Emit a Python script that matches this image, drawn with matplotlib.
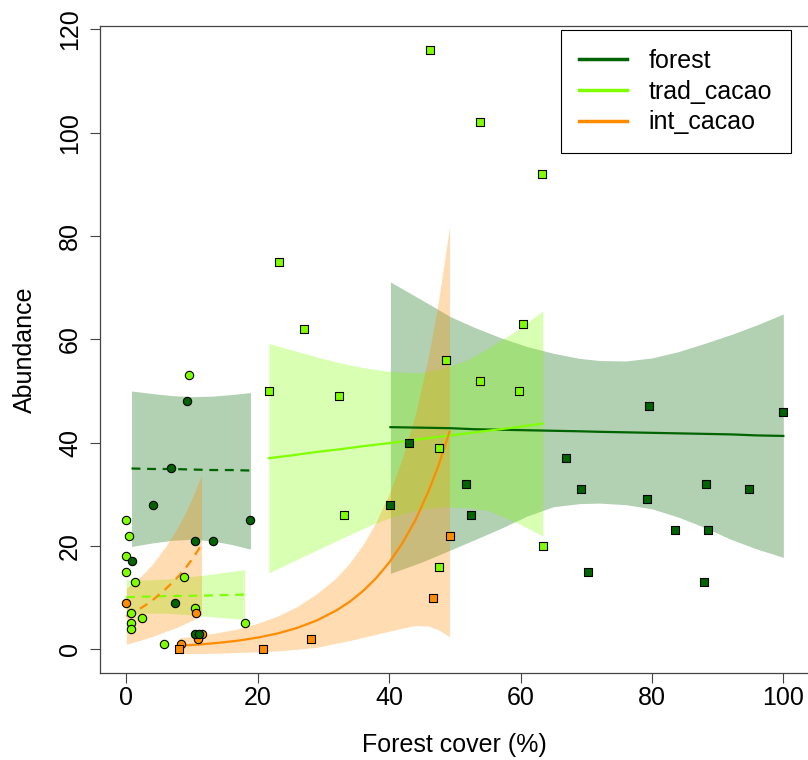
import matplotlib
matplotlib.use('Agg')
import matplotlib.pyplot as plt
from matplotlib.lines import Line2D

plt.rcParams['font.family'] = ['Liberation Sans', 'DejaVu Sans']

# ---------------- data ----------------
# circles (low forest-cover landscapes)
forest_circ_x = [9.3, 6.8, 4.0, 18.9, 10.4, 13.2, 0.8, 7.4, 10.4, 11.1]
forest_circ_y = [48, 35, 28, 25, 21, 21, 17, 9, 3, 3]
trad_circ_x = [9.6, 0.0, 0.45, 0.0, 0.0, 1.4, 8.8, 10.5, 0.75, 2.4, 0.75, 0.75, 18.0, 5.8]
trad_circ_y = [53, 25, 22, 18, 15, 13, 14, 8, 7, 6, 5, 4, 5, 1]
int_circ_x = [0.0, 10.6, 11.45, 10.9, 8.4]
int_circ_y = [9, 7, 3, 2, 1]

# squares (higher forest-cover landscapes)
forest_sq_x = [79.5, 100.0, 67.0, 69.2, 88.2, 94.8, 79.3, 83.5, 88.6, 70.2, 87.9, 43.0, 51.7, 40.2, 52.5]
forest_sq_y = [47, 46, 37, 31, 32, 31, 29, 23, 23, 15, 13, 40, 32, 28, 26]
trad_sq_x = [23.3, 27.1, 21.7, 32.3, 48.6, 53.8, 59.7, 60.4, 47.6, 33.1, 63.4, 47.6, 46.2, 53.8, 63.2]
trad_sq_y = [75, 62, 50, 49, 56, 52, 50, 63, 39, 26, 20, 16, 116, 102, 92]
int_sq_x = [8.0, 20.8, 28.1, 46.7, 49.2]
int_sq_y = [0, 0, 2, 10, 22]

# fitted curves and confidence bands
fc_fit_x = [0.8, 4, 7, 10, 13, 16, 18.9]
fc_fit = [35.0, 34.9, 34.9, 34.8, 34.7, 34.7, 34.6]
fc_lo = [19.9, 20.6, 21.1, 21.3, 21.0, 20.3, 19.4]
fc_hi = [50.0, 49.5, 49.1, 48.9, 49.0, 49.3, 49.7]

tc_fit_x = [0, 3, 6, 9, 12, 15, 18]
tc_fit = [10.1, 10.2, 10.3, 10.35, 10.4, 10.5, 10.6]
tc_lo = [6.7, 7.0, 7.0, 6.75, 6.4, 6.1, 5.8]
tc_hi = [13.5, 13.4, 13.6, 13.95, 14.4, 14.9, 15.4]

ic_fit_x = [0, 1, 2, 3, 4, 5, 6, 7, 8, 9, 10, 11.45]
ic_fit = [6.4, 7.1, 7.8, 8.6, 9.5, 10.6, 11.7, 12.9, 14.2, 15.7, 17.4, 20.2]
ic_lo = [1.0, 1.35, 1.7, 2.1, 2.5, 3.0, 3.5, 3.9, 4.4, 5.0, 5.6, 6.7]
ic_hi = [11.8, 12.8, 13.9, 15.1, 16.5, 18.2, 19.9, 21.9, 24.0, 26.4, 29.2, 33.7]

fs_fit_x = [40.2, 45, 49.3, 53, 57, 61, 65, 69, 72, 76, 80, 84, 88, 92, 96, 100]
fs_fit = [43.0, 42.9, 42.8, 42.6, 42.5, 42.4, 42.3, 42.2, 42.1, 42.0, 41.9, 41.8, 41.7, 41.6, 41.4, 41.3]
fs_lo = [14.7, 16.9, 19.2, 21.2, 23.4, 25.8, 27.6, 28.2, 28.3, 28.0, 27.2, 25.6, 23.6, 21.3, 19.4, 17.8]
fs_hi = [71.1, 67.6, 64.4, 62.3, 60.3, 58.6, 57.3, 56.3, 55.9, 55.8, 56.4, 57.6, 59.2, 60.9, 62.8, 64.9]

ts_fit_x = [21.7, 25, 29, 33, 36.6, 40, 44.3, 48, 51.9, 55, 59.5, 63.4]
ts_fit = [37.0, 37.5, 38.2, 38.8, 39.4, 39.9, 40.6, 41.2, 41.8, 42.3, 43.0, 43.7]
ts_lo = [14.8, 16.8, 19.2, 21.6, 23.7, 25.4, 27.0, 27.6, 27.4, 26.9, 24.5, 21.9]
ts_hi = [59.2, 58.0, 56.6, 55.3, 54.4, 53.8, 53.5, 54.3, 56.0, 58.2, 61.8, 65.5]

is_fit_x = [8.0, 11, 14, 17, 20, 23, 26, 29, 32, 34, 36, 38, 40, 42, 44, 46, 47.5, 49.2]
is_fit = [0.7, 0.92, 1.25, 1.68, 2.27, 3.06, 4.14, 5.59, 7.54, 9.21, 11.25, 13.74, 16.78, 20.5,
          25.0, 30.6, 35.5, 42.1]
is_lo = [-0.8, -0.8, -0.75, -0.6, -0.5, -0.3, 0.0, 0.4, 1.2, 1.7, 2.3, 2.9, 3.5, 4.1, 4.6, 4.5,
         3.8, 2.4]
is_hi = [2.2, 2.64, 3.25, 3.96, 5.04, 6.42, 8.28, 10.78, 13.88, 16.72, 20.2, 24.58, 30.06, 36.9,
         45.4, 56.7, 67.2, 81.8]

legend_labels = ['forest', 'trad_cacao', 'int_cacao']
x_ticks = [0, 20, 40, 60, 80, 100]
y_ticks = [0, 20, 40, 60, 80, 100, 120]

# ---------------- style ----------------
FOREST = '#006400'
TRAD = '#7FFF00'
INT = '#FF8C00'
FS = 18
AXC = '#444444'

fig = plt.figure(figsize=(8.08, 7.6), dpi=100)
ax = fig.add_axes([100 / 808, 1 - 673.3 / 760, 709.6 / 808, 647.3 / 760])
ax.set_xlim(-4, 104)
ax.set_ylim(-4.64, 120.64)

# bands
for xs, lo, hi, c in [(fc_fit_x, fc_lo, fc_hi, FOREST), (tc_fit_x, tc_lo, tc_hi, TRAD),
                      (ic_fit_x, ic_lo, ic_hi, INT), (fs_fit_x, fs_lo, fs_hi, FOREST),
                      (ts_fit_x, ts_lo, ts_hi, TRAD), (is_fit_x, is_lo, is_hi, INT)]:
    ax.fill_between(xs, lo, hi, color=c, alpha=0.3, lw=0, zorder=1)

# fit lines
dash = (0, (4, 3))
ax.plot(fc_fit_x, fc_fit, color=FOREST, lw=1.6, ls=dash, zorder=3)
ax.plot(tc_fit_x, tc_fit, color=TRAD, lw=1.6, ls=dash, zorder=3)
ax.plot(ic_fit_x, ic_fit, color=INT, lw=1.6, ls=dash, zorder=3)
ax.plot(fs_fit_x, fs_fit, color=FOREST, lw=1.6, zorder=3)
ax.plot(ts_fit_x, ts_fit, color=TRAD, lw=1.6, zorder=3)
ax.plot(is_fit_x, is_fit, color=INT, lw=1.6, zorder=3)

# points
pk = dict(edgecolors='black', linewidths=0.8, zorder=5)
ax.scatter(trad_circ_x, trad_circ_y, marker='o', s=36, c=TRAD, **pk)
ax.scatter(int_circ_x, int_circ_y, marker='o', s=36, c=INT, **pk)
ax.scatter(forest_circ_x, forest_circ_y, marker='o', s=36, c=FOREST, **pk)
ax.scatter(trad_sq_x, trad_sq_y, marker='s', s=32, c=TRAD, **pk)
ax.scatter(int_sq_x, int_sq_y, marker='s', s=32, c=INT, **pk)
ax.scatter(forest_sq_x, forest_sq_y, marker='s', s=32, c=FOREST, **pk)

# axes
ax.set_xticks(x_ticks)
ax.set_yticks(y_ticks)
ax.tick_params(direction='out', length=7, width=0.8, color=AXC, labelsize=FS)
ax.tick_params(axis='x', pad=2)
ax.tick_params(axis='y', pad=6, labelrotation=90)
for lab in ax.get_yticklabels():
    lab.set_va('center')
for sp in ax.spines.values():
    sp.set_color(AXC)
    sp.set_linewidth(0.9)

fig.text(454.8 / 808, 1 - 745 / 760, 'Forest cover (%)', ha='center', va='center', fontsize=FS)
fig.text(25 / 808, 1 - 349.7 / 760, 'Abundance', ha='center', va='center', rotation=90, fontsize=FS)

handles = [Line2D([], [], color=c, lw=2.5) for c in (FOREST, TRAD, INT)]
leg = ax.legend(handles, legend_labels, loc='upper right', bbox_to_anchor=(791 / 808, 1 - 30 / 760),
                bbox_transform=fig.transFigure, fontsize=FS, frameon=True, fancybox=False,
                edgecolor='black', framealpha=1, borderpad=0.75, handlelength=1.9,
                handletextpad=0.88, labelspacing=0.27, borderaxespad=0)
leg.get_frame().set_linewidth(0.8)

fig.savefig('out.png', dpi=100)
